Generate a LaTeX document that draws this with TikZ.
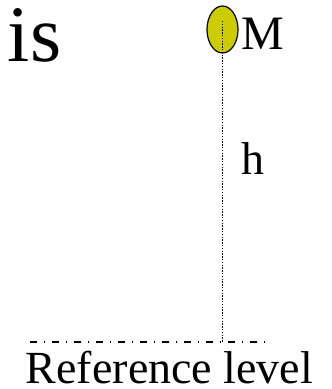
\documentclass[tikz,border=0pt]{standalone}
\usepackage{fontspec}
\setmainfont{Liberation Serif}
\usetikzlibrary{shapes.geometric}
\begin{document}
\begin{tikzpicture}[x=1pt,y=-1pt,
  lbl/.style={inner sep=0pt,outer sep=0pt,font=\fontsize{46}{46}\selectfont},
  mass/.style={ellipse,draw=black,line width=1.2pt,fill={rgb,255:red,204;green,204;blue,0},minimum width=31pt,minimum height=47pt,inner sep=0pt},
  dotline/.style={line width=1.1pt,dash pattern=on 1.3pt off 1.5pt},
  refline/.style={line width=1.5pt,dash pattern=on 7.5pt off 6.5pt on 1.5pt off 6.5pt}]
\useasboundingbox (0,0) rectangle (332,389);
\node[mass] (ball) at (222.5,29.5) {};
\coordinate (top) at (222.7,21);
\coordinate (foot) at (222.7,342);
\coordinate (rl) at (29.5,342);
\coordinate (rr) at (265,342);
\draw[dotline] (top) -- (foot);
\draw[refline] (rl) -- (rr);
\node[lbl,anchor=base west,font=\fontsize{80}{80}\selectfont] (is) at (8,61) {is};
\node[lbl,anchor=base west,font=\fontsize{48}{48}\selectfont] (M) at (241,49) {M};
\node[lbl,anchor=base west] (h) at (241.5,174) {h};
\node[lbl,anchor=base] (ref) at (169.5,383) {Reference level};
\end{tikzpicture}
\end{document}
